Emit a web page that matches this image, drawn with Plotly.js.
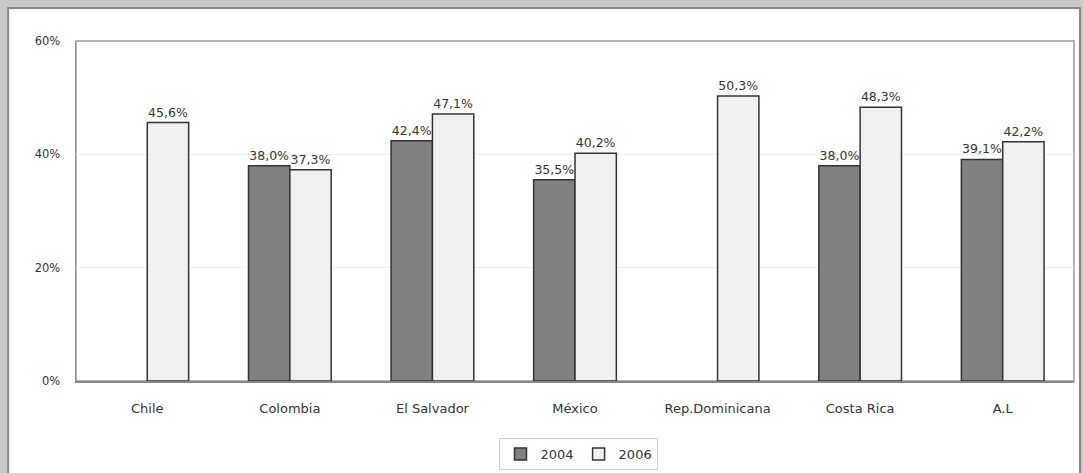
<!DOCTYPE html>
<html>
<head>
<meta charset="utf-8">
<script src="https://cdn.plot.ly/plotly-3.0.1.min.js"></script>
<style>html,body{margin:0;padding:0;background:#c8c8c8;}#chart{width:1083px;height:473px;}</style>
</head>
<body>
<div id="chart"></div>
<script>
const categories = ["Chile", "Colombia", "El Salvador", "México", "Rep.Dominicana", "Costa Rica", "A.L"];
const values2004 = [null, 38.0, 42.4, 35.5, null, 38.0, 39.1];
const values2006 = [45.6, 37.3, 47.1, 40.2, 50.3, 48.3, 42.2];
const yTickVals = [0, 20, 40, 60];
const yTickText = ["0%", "20%", "40%", "60%"];

function fmt(v) { return v == null ? "" : v.toFixed(1).replace(".", ",") + "%"; }

const common = {
  type: "bar",
  x: categories,
  textposition: "outside",
  cliponaxis: false,
  textfont: {family: "DejaVu Sans", size: 12.5, color: "#333333"},
  hoverinfo: "skip"
};

const traces = [
  Object.assign({}, common, {
    name: "2004", y: values2004, text: values2004.map(fmt),
    marker: {color: "#808080", line: {color: "#333333", width: 1.5}}
  }),
  Object.assign({}, common, {
    name: "2006", y: values2006, text: values2006.map(fmt),
    marker: {color: "#f0f0f0", line: {color: "#333333", width: 1.5}}
  })
];

const layout = {
  width: 1083, height: 473,
  margin: {l: 76, r: 9, t: 41, b: 92, autoexpand: false},
  paper_bgcolor: "#c8c8c8",
  plot_bgcolor: "#ffffff",
  barmode: "group",
  bargap: 0.42,
  bargroupgap: 0,
  showlegend: true,
  legend: {
    orientation: "h", x: 0.504, xanchor: "center", y: -0.168, yanchor: "top",
    font: {family: "DejaVu Sans", size: 13, color: "#333333"},
    bordercolor: "#cccccc", borderwidth: 1, bgcolor: "#ffffff",
    itemwidth: 30, tracegroupgap: 0
  },
  font: {family: "DejaVu Sans", color: "#333333"},
  xaxis: {
    type: "category", automargin: false,
    tickfont: {family: "DejaVu Sans", size: 13, color: "#333333"},
    showline: true, linecolor: "#888888", linewidth: 2,
    ticks: "", showgrid: false, mirror: false, ticklabelstandoff: 14
  },
  yaxis: {
    range: [0, 60], automargin: false,
    tickvals: yTickVals, ticktext: yTickText,
    tickfont: {family: "DejaVu Sans", size: 11.5, color: "#333333"},
    showgrid: true, gridcolor: "#eeeeee", gridwidth: 1,
    showline: true, linecolor: "#999999", linewidth: 1.5,
    ticks: "", zeroline: false, ticklabelstandoff: 12
  },
  shapes: [
    {type: "rect", xref: "paper", yref: "paper", x0: -0.068, x1: 1.006, y0: -0.4, y1: 1.097,
     fillcolor: "#ffffff", line: {color: "#888888", width: 2}, layer: "below"},
    {type: "rect", xref: "paper", yref: "paper", x0: 0, x1: 1, y0: 0, y1: 1,
     fillcolor: "rgba(0,0,0,0)", line: {color: "#999999", width: 1.5}, layer: "below"}
  ]
};

Plotly.newPlot("chart", traces, layout, {displayModeBar: false, staticPlot: true});
</script>
</body>
</html>
